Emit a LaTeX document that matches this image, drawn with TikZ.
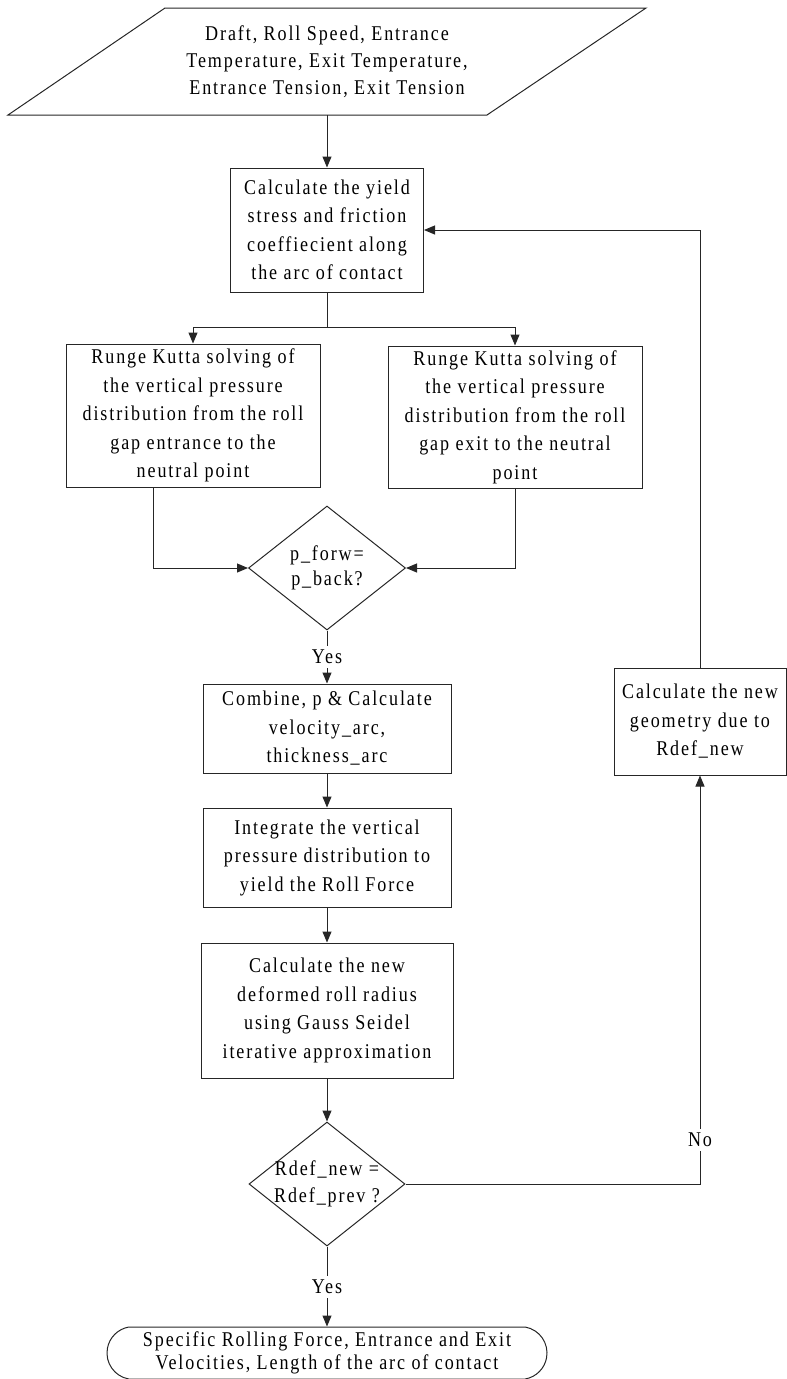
\documentclass[tikz,border=0pt]{standalone}
\usepackage{fontspec}
\setmainfont{Liberation Serif}[FakeStretch=0.86,LetterSpace=9]
\usetikzlibrary{arrows.meta,shapes.geometric,shapes.misc}
\begin{document}
\begin{tikzpicture}[x=1pt,y=-1pt,
  font=\fontsize{21}{28.5}\selectfont,
  ln/.style={line width=1pt,draw=black!85},
  box/.style={draw=black!85,line width=1pt,align=center,inner sep=0pt},
  dia/.style={draw=black!85,shape=diamond,line width=1pt,inner sep=0pt},
  term/.style={draw=black!85,shape=rounded rectangle,rounded rectangle arc length=160,line width=1pt,align=center,inner sep=0pt},
  lbl/.style={inner sep=4pt,align=center},
  arr/.style={-{Triangle[length=11pt,width=9pt]},line width=1pt,draw=black!85}]
\useasboundingbox (0,0) rectangle (787,1379);

% input parallelogram
\draw[ln] (165,8) -- (646,8) -- (487,115) -- (8,115) -- cycle;
\node[align=center,font=\fontsize{21}{27}\selectfont] (in) at (327,62)
  {Draft, Roll Speed, Entrance\\Temperature, Exit Temperature,\\Entrance Tension, Exit Tension};
\coordinate (inb) at (327,115);

\node[box,minimum width=193,minimum height=124] (b1) at (327,230)
  {Calculate the yield\\stress and friction\\coeffiecient along\\the arc of contact};
\node[box,minimum width=254,minimum height=143] (rk1) at (193,415.5)
  {Runge Kutta solving of\\the vertical pressure\\distribution from the roll\\gap entrance to the\\neutral point};
\node[box,minimum width=254,minimum height=142] (rk2) at (515,417)
  {Runge Kutta solving of\\the vertical pressure\\distribution from the roll\\gap exit to the neutral\\point};
\node[dia,minimum width=157,minimum height=124] (d1) at (327,568) {};
\node[align=center,font=\fontsize{21}{25}\selectfont] (d1t) at (d1.center) {p\_forw=\\p\_back?};
\node[lbl] (yes1) at (327,657) {Yes};
\node[box,minimum width=248,minimum height=89] (comb) at (327,728.5)
  {Combine, p \& Calculate\\velocity\_arc,\\thickness\_arc};
\node[box,minimum width=248,minimum height=99] (integ) at (327,857.5)
  {Integrate the vertical\\pressure distribution to\\yield the Roll Force};
\node[box,minimum width=252,minimum height=135] (calc) at (327,1010.5)
  {Calculate the new\\deformed roll radius\\using Gauss Seidel\\iterative approximation};
\node[dia,minimum width=156,minimum height=124] (d2) at (327,1184) {};
\node[align=center,font=\fontsize{21}{27}\selectfont] (d2t) at (d2.center) {Rdef\_new =\\Rdef\_prev ?};
\node[lbl] (yes2) at (327,1287) {Yes};
\node[lbl] (no) at (700,1140) {No};
\node[box,minimum width=172,minimum height=107] (geo) at (700,721.5)
  {Calculate the new\\geometry due to\\Rdef\_new};
\node[term,minimum width=440,minimum height=52,font=\fontsize{21}{23}\selectfont] (end) at (327,1353)
  {Specific Rolling Force, Entrance and Exit\\Velocities, Length of the arc of contact};

% connectors
\draw[arr] (inb) -- (b1.north);
\draw[ln] (b1.south) -- ++(0,35) coordinate (sp);
\draw[arr] (sp) -| (rk1.north);
\draw[arr] (sp) -| (rk2.north);
\draw[arr] ([xshift=-40pt]rk1.south) |- (d1.west);
\draw[arr] (rk2.south) |- (d1.east);
\draw[ln] (d1.south) -- (yes1.north);
\draw[arr] (yes1.south) -- (comb.north);
\draw[arr] (comb.south) -- (integ.north);
\draw[arr] (integ.south) -- (calc.north);
\draw[arr] (calc.south) -- (d2.north);
\draw[ln] (d2.south) -- (yes2.north);
\draw[arr] (yes2.south) -- (end.north);
\draw[ln] (d2.east) -| (no.south);
\draw[arr] (no.north) -- (geo.south);
\draw[arr] (geo.north) |- (b1.east);
\end{tikzpicture}
\end{document}
